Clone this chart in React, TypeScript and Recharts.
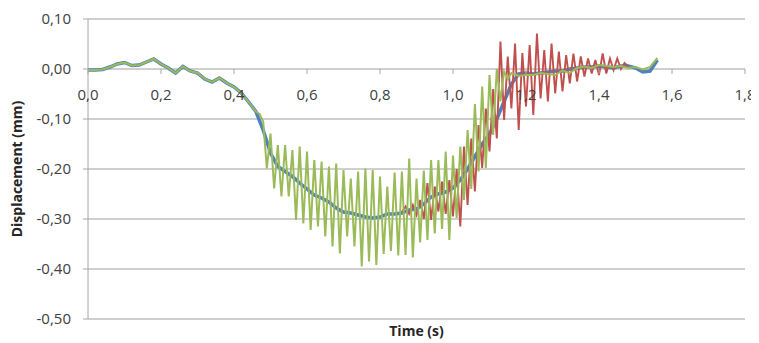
import { CartesianGrid, Line, LineChart, XAxis, YAxis } from "recharts"

// displacement of the base run, sampled every 0.02 s from 0
const baseStep = 0.02
const baseDisp = [
    -0.002, -0.002, -0.001, 0.004, 0.010, 0.013, 0.007, 0.008, 0.014, 0.020,
    0.010, 0.002, -0.008, 0.005, -0.004, -0.008, -0.020, -0.026, -0.018, -0.028,
    -0.036, -0.048, -0.066, -0.085, -0.122, -0.168, -0.195, -0.205, -0.215, -0.228,
    -0.240, -0.252, -0.258, -0.266, -0.278, -0.286, -0.288, -0.292, -0.296, -0.298,
    -0.296, -0.290, -0.290, -0.288, -0.282, -0.280, -0.270, -0.256, -0.250, -0.246,
    -0.238, -0.222, -0.200, -0.175, -0.150, -0.130, -0.100, -0.065, -0.030, -0.010,
    -0.008, -0.010, -0.008, -0.006, -0.004, -0.004, 0.000, 0.002, 0.004, 0.004,
    0.006, 0.004, 0.002, 0.006, 0.006, 0.002, -0.006, -0.004, 0.018,
]

// green run: oscillating part, every 0.01 s from 0.47
const greenOscStart = 0.47
const greenOsc = [
    -0.090, -0.105, -0.199, -0.129, -0.239, -0.152, -0.255, -0.152, -0.255, -0.162,
    -0.302, -0.155, -0.309, -0.165, -0.322, -0.182, -0.315, -0.185, -0.335, -0.195,
    -0.355, -0.189, -0.369, -0.202, -0.335, -0.219, -0.355, -0.205, -0.395, -0.199,
    -0.385, -0.202, -0.392, -0.215, -0.370, -0.235, -0.364, -0.207, -0.373, -0.205,
    -0.372, -0.179, -0.377, -0.219, -0.347, -0.203, -0.342, -0.182, -0.329, -0.182,
    -0.320, -0.165, -0.342, -0.173, -0.298, -0.155, -0.262, -0.122, -0.240, -0.070,
    -0.205, -0.035, -0.198, -0.012, -0.132, 0.000, -0.065, -0.005, -0.020, -0.008,
]
// green run after it settles, every 0.02 s from 1.18
const greenTailStart = 1.18
const greenTail = [
    -0.014, -0.012, -0.012, -0.008, -0.010, -0.012, -0.003, -0.008, 0.002, 0.005,
    0.002, 0.008, 0.006, 0.004, 0.006, 0.002, 0.004, -0.001, 0.004, 0.022,
]

// red run, every 0.01 s from 0.86
const redStart = 0.86
const redDisp = [
    -0.286, -0.275, -0.290, -0.272, -0.292, -0.262, -0.300, -0.228, -0.302, -0.235,
    -0.285, -0.225, -0.290, -0.222, -0.295, -0.200, -0.315, -0.155, -0.272, -0.139,
    -0.245, -0.112, -0.198, -0.079, -0.165, -0.040, -0.139, 0.055, -0.102, 0.025,
    -0.079, 0.051, -0.122, 0.032, -0.075, 0.048, -0.092, 0.071, -0.059, 0.038,
    -0.065, 0.051, -0.049, 0.035, -0.045, 0.028, -0.029, 0.031, -0.025, 0.025,
    -0.015, 0.021, -0.009, 0.018, -0.012, 0.031, -0.009, 0.021, -0.002, 0.021,
    0.000, 0.012, 0.005,
]

const timeTicks = [0, 0.2, 0.4, 0.6, 0.8, 1.0, 1.2, 1.4, 1.6, 1.8]
const dispTicks = [-0.5, -0.4, -0.3, -0.2, -0.1, 0, 0.1]

const sampled = (start: number, step: number, values: number[]) =>
    values.map((v, i) => ({ t: Math.round((start + i * step) * 1000) / 1000, v }))

const base = sampled(0, baseStep, baseDisp)
const green = [
    ...base.filter(p => p.t < greenOscStart),
    ...sampled(greenOscStart, 0.01, greenOsc),
    ...sampled(greenTailStart, 0.02, greenTail),
]
const red = sampled(redStart, 0.01, redDisp)

const W = 751
const H = 335
const margin = { top: 11, right: 14, left: 0, bottom: 0 }
const xAxisH = 24
const plotH = H - margin.top - margin.bottom - xAxisH
const yMin = -0.5
const yMax = 0.1
const zeroY = margin.top + plotH * (yMax / (yMax - yMin))

const font = "'Open Sans', sans-serif"
const comma = (v: number, d: number) => v.toFixed(d).replace(".", ",")

function TimeTick({ x, payload }: any) {
    return (
        <g>
            <line x1={x} x2={x} y1={zeroY} y2={zeroY + 5} stroke="#a6a6a6" />
            <text x={x} y={zeroY + 31} textAnchor="middle" fontSize={15} fill="#404040" fontFamily={font}>
                {comma(payload.value, 1)}
            </text>
        </g>
    )
}

export default function App() {
    return (
        <LineChart width={W} height={H} margin={margin} style={{ overflow: "visible" }}>
            <CartesianGrid vertical={false} stroke="#bfbfbf" strokeWidth={1.5} />
            <XAxis
                dataKey="t"
                type="number"
                domain={[0, 1.8]}
                ticks={timeTicks}
                interval={0}
                axisLine={false}
                tickLine={false}
                height={xAxisH}
                tick={<TimeTick />}
                label={{ value: "Time (s)", position: "insideBottom", offset: 7, fontSize: 14, fontWeight: 700, fill: "#262626", fontFamily: font }}
            />
            <YAxis
                type="number"
                domain={[yMin, yMax]}
                ticks={dispTicks}
                width={80}
                stroke="#a6a6a6"
                tickSize={5}
                tickMargin={12}
                tickFormatter={(v: number) => comma(v, 2)}
                tick={{ fontSize: 15, fill: "#404040", fontFamily: font }}
                label={{ value: "Displacement (mm)", angle: -90, position: "insideLeft", offset: 9, style: { textAnchor: "middle" }, fontSize: 14, fontWeight: 700, fill: "#262626", fontFamily: font }}
            />
            <Line data={base} dataKey="v" stroke="#4f81bd" strokeWidth={3.5} dot={false} isAnimationActive={false} />
            <Line data={red} dataKey="v" stroke="#c0504d" strokeWidth={1.9} dot={false} isAnimationActive={false} />
            <Line data={green} dataKey="v" stroke="#9bbb59" strokeWidth={2} dot={false} isAnimationActive={false} />
        </LineChart>
    )
}
